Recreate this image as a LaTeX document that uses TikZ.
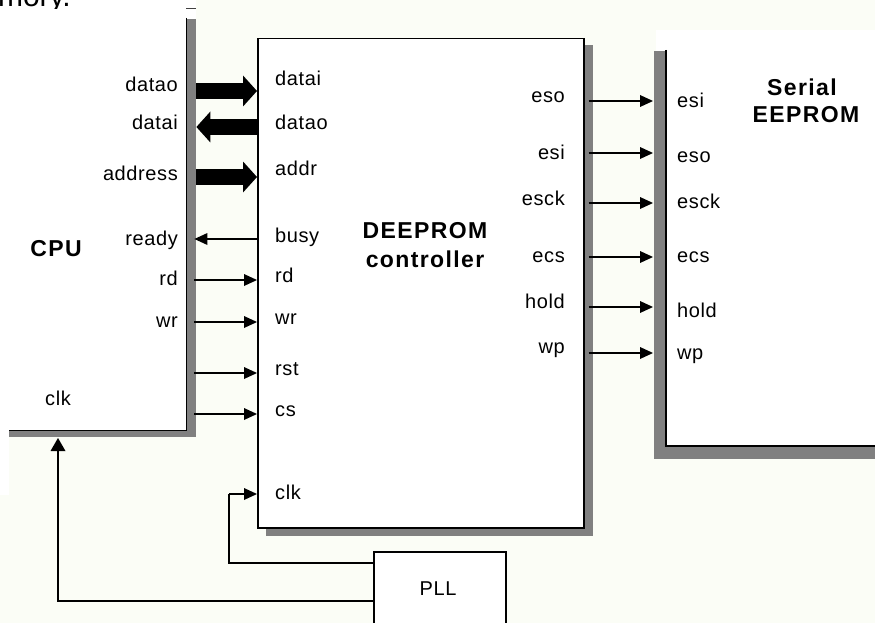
\documentclass[tikz,border=0pt]{standalone}
\usepackage{fontspec}
\setmainfont{Liberation Sans}
\newfontfamily\lblfont[LetterSpace=3]{Liberation Sans}
\newfontfamily\ttlfont[LetterSpace=6]{Liberation Sans}
\usetikzlibrary{arrows.meta,calc}
\definecolor{bgc}{RGB}{251,253,246}
\definecolor{shadowgray}{RGB}{128,128,128}
\begin{document}
\begin{tikzpicture}[x=1pt,y=-1pt,
  lbl/.style={font={\lblfont\fontsize{20}{24}\selectfont}, inner sep=0pt},
  ttl/.style={font={\ttlfont\bfseries\fontsize{23}{27}\selectfont}, inner sep=0pt},
  edge/.style={line width=1.5pt},
  box/.style={draw, line width=1.5pt, fill=white, inner sep=0pt},
  shade/.style={fill=shadowgray},
  sig/.style={line width=2pt, -{Triangle[length=13pt,width=12pt,line width=0pt]}},
  bus/.style={line width=16pt, -{Triangle[length=14pt,width=31pt,line width=0pt]}},
  wire/.style={line width=1.3pt}]
\useasboundingbox (0,0) rectangle (875,623);
\fill[bgc] (0,0) rectangle (875,623);
\fill[white] (0,0) rectangle (9,495);
\fill[white] (0,0) rectangle (196,19);
\node[inner sep=0pt, font={\fontsize{30}{36}\selectfont}, anchor=base east] (mory) at (71,7) {mory.};

% CPU
\fill[shade] (9,19) rectangle (196,437);
\node[fill=white, inner sep=0pt, minimum width=188pt, minimum height=421pt, anchor=north west] (cpu) at (-2,9) {};
\draw[edge] ([yshift=-9pt]cpu.north east) -- (cpu.south east) -- ([xshift=11pt]cpu.south west);
\draw[darkgray, line width=1pt] (186,9) -- (196,9);

% controller
\fill[shade] (266,45) rectangle (593,536);
\node[box, minimum width=326pt, minimum height=489pt, anchor=north west] (ctrl) at (257,38) {};

% serial EEPROM
\fill[white] (656,30) rectangle (875,51);
\fill[shade] (654,51) rectangle (875,459);
\node[fill=white, inner sep=0pt, minimum width=220pt, minimum height=400pt, anchor=south west] (eep) at (666,446) {};
\draw[edge] (eep.west |- 0,50) -- (eep.south west) -- (eep.south east);

% PLL
\node[box, minimum width=132pt, minimum height=100pt, anchor=north west] (pll) at (373,551) {};
\node[lbl, anchor=base] (pllt) at (438,595) {PLL};

% titles
\node[ttl, anchor=base] (cput) at (56,256) {CPU};
\node[ttl, anchor=base] (ctrlt1) at (425,238) {DEEPROM};
\node[ttl, anchor=base] (ctrlt2) at (425,267) {controller};
\node[ttl, anchor=base] (eept1) at (802,96) {Serial};
\node[ttl, anchor=base] (eept2) at (806,123) {EEPROM};

% CPU port labels
\foreach \t/\y in {datao/92, datai/130, address/180, ready/245, rd/285, wr/327}
  \node[lbl, anchor=base east] (cpu-\t) at (178,\y) {\t};
\node[lbl, anchor=base west] (cpu-clk) at (45,405) {clk};

% controller port labels (left)
\foreach \t/\y in {datai/86, datao/129, addr/175, busy/242, rd/282, wr/324, rst/375, cs/416, clk/499}
  \node[lbl, anchor=base west] (cl-\t) at (275,\y) {\t};
% controller port labels (right)
\foreach \t/\y in {eso/103, esi/160, esck/205, ecs/262, hold/308, wp/353}
  \node[lbl, anchor=base east] (cr-\t) at (565,\y) {\t};
% EEPROM port labels
\foreach \t/\y in {esi/108, eso/162, esck/208, ecs/262, hold/317, wp/359}
  \node[lbl, anchor=base west] (ee-\t) at (677,\y) {\t};

% edge anchors
\coordinate (cpuR) at ([xshift=10pt]cpu.east);
\coordinate (eepL) at ([xshift=-13pt]eep.west);

% buses
\coordinate (r1) at (0,91);
\coordinate (r2) at (0,127);
\coordinate (r3) at (0,177);
\draw[bus] (cpuR |- r1) -- (ctrl.west |- r1);
\draw[bus] (ctrl.west |- r2) -- (cpuR |- r2);
\draw[bus] (cpuR |- r3) -- (ctrl.west |- r3);

% single signals left
\coordinate (r4) at (0,239);
\coordinate (r5) at (0,280);
\coordinate (r6) at (0,322);
\coordinate (r7) at (0,373);
\coordinate (r8) at (0,414);
\draw[sig] (ctrl.west |- r4) -- ([xshift=-2pt]cpuR |- r4);
\draw[sig] ([xshift=-2pt]cpuR |- r5) -- (ctrl.west |- r5);
\draw[sig] ([xshift=-2pt]cpuR |- r6) -- (ctrl.west |- r6);
\draw[sig] ([xshift=-2pt]cpuR |- r7) -- (ctrl.west |- r7);
\draw[sig] ([xshift=-2pt]cpuR |- r8) -- (ctrl.west |- r8);

% serial signals
\foreach \y in {101,153,203,257,307,353}
  \draw[sig] ([xshift=4pt]ctrl.east |- 0,\y) -- (eepL |- 0,\y);

% clocks
\coordinate (clkbend) at (229,494);
\draw[wire] (pll.west |- 0,563) -| (clkbend);
\draw[sig] (clkbend) -- (ctrl.west |- clkbend);
\coordinate (cpuclkin) at (58,438);
\draw[wire, -{Triangle[length=13pt,width=15pt,line width=0pt]}] (pll.west |- 0,601) -| (cpuclkin);
\end{tikzpicture}
\end{document}
